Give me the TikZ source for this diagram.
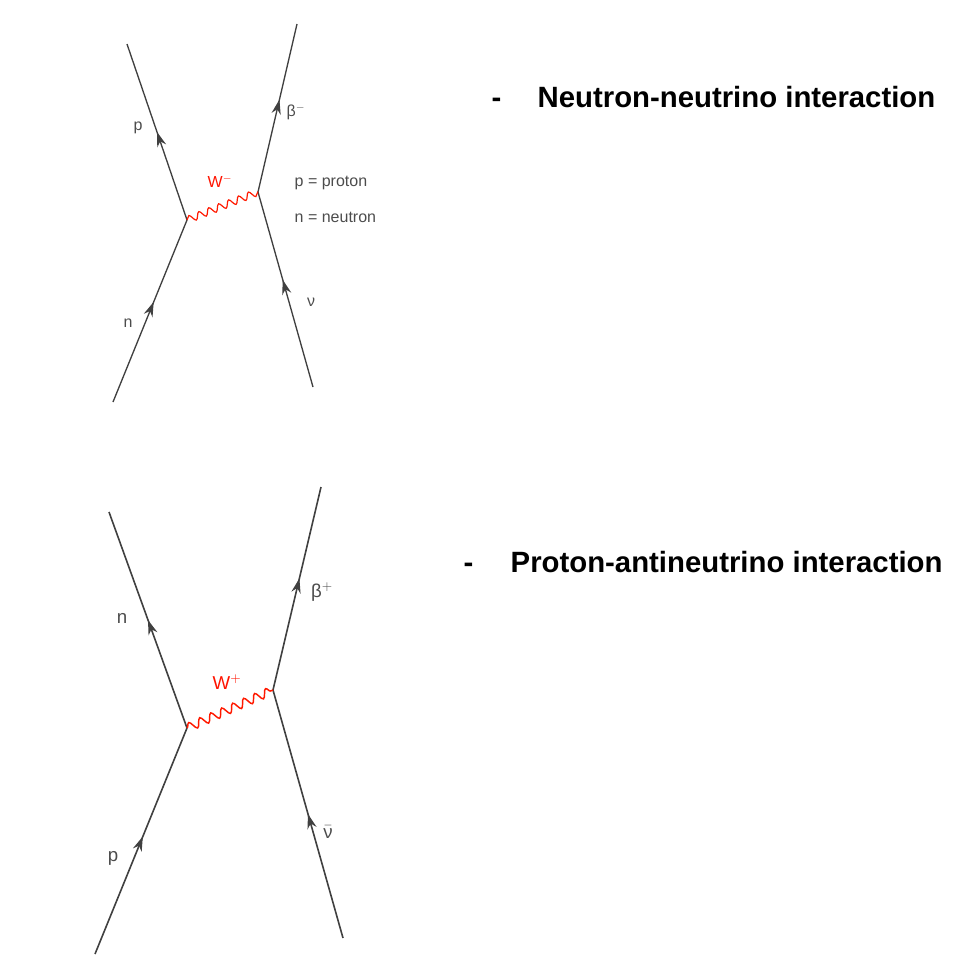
\documentclass[tikz,border=0pt]{standalone}
\usepackage{fontspec}
\setmainfont{Liberation Sans}
\usetikzlibrary{decorations.pathmorphing,decorations.markings,arrows.meta}
\begin{document}
\begin{tikzpicture}[x=0.75pt,y=-0.75pt,
  fermion/.style={draw=black!75,line width=1pt,postaction={decorate},
    decoration={markings,mark=at position #1 with {\arrow{Stealth[length=11pt,width=7pt]}}}},
  boson/.style={draw=red!80!orange,line width=0.9pt,decorate,
    decoration={snake,amplitude=2.6pt,segment length=8pt}},
  lbl/.style={text=black!70,font=\fontsize{12}{14}\selectfont},
  wlbl/.style={text=red!85!orange,font=\fontsize{12}{14}\selectfont},
  head/.style={font=\bfseries\fontsize{22}{26}\selectfont,anchor=base west}]
\useasboundingbox (0,0) rectangle (970,976);
% top diagram
\coordinate (a1) at (113,402); \coordinate (a2) at (127,44);
\coordinate (b1) at (313,387); \coordinate (b2) at (297,24);
\coordinate (va) at (187,220); \coordinate (vb) at (258,192);
\draw[fermion=0.55] (a1) -- (va);
\draw[fermion=0.5] (va) -- (a2);
\draw[fermion=0.55] (b1) -- (vb);
\draw[fermion=0.55] (vb) -- (b2);
\draw[boson] (va) -- (vb);
\node[lbl] (lp1) at (138,128) {p};
\node[lbl] (ln1) at (128,323) {n};
\node[lbl] (lb1) at (296,112) {β$^{-}$};
\node[lbl] (lv1) at (311,302) {ν};
\node[wlbl] (lw1) at (220,181) {W$^{-}$};
\node[lbl,anchor=west] (k1) at (290,183) {p = proton};
\node[lbl,anchor=west] (k2) at (290,217) {n = neutron};
\node[head] (d1h) at (487,107) {-};
\node[head] (h1) at (533,107) {Neutron-neutrino interaction};
% bottom diagram
\coordinate (c1) at (95,954); \coordinate (c2) at (109,512);
\coordinate (d1) at (343,938); \coordinate (d2) at (321,487);
\coordinate (vc) at (187,728); \coordinate (vd) at (273,690);
\draw[fermion=0.52,line width=1.2pt] (c1) -- (vc);
\draw[fermion=0.5,line width=1.2pt] (vc) -- (c2);
\draw[fermion=0.5,line width=1.2pt] (d1) -- (vd);
\draw[fermion=0.55,line width=1.2pt] (vd) -- (d2);
\draw[boson,line width=1.1pt,decoration={amplitude=3.2pt,segment length=9pt}] (vc) -- (vd);
\node[lbl,font=\fontsize{14}{16}\selectfont] (lp2) at (113,858) {p};
\node[lbl,font=\fontsize{14}{16}\selectfont] (ln2) at (122,618) {n};
\node[lbl,font=\fontsize{14}{16}\selectfont] (lb2) at (322,592) {β$^{+}$};
\node[lbl,font=\fontsize{14}{16}\selectfont] (lv2) at (328,832) {$\bar{\textrm{ν}}$};
\node[wlbl,font=\fontsize{14}{16}\selectfont] (lw2) at (227,682) {W$^{+}$};
\node[head] (d2h) at (459,572) {-};
\node[head] (h2) at (506,572) {Proton-antineutrino interaction};
\end{tikzpicture}
\end{document}
